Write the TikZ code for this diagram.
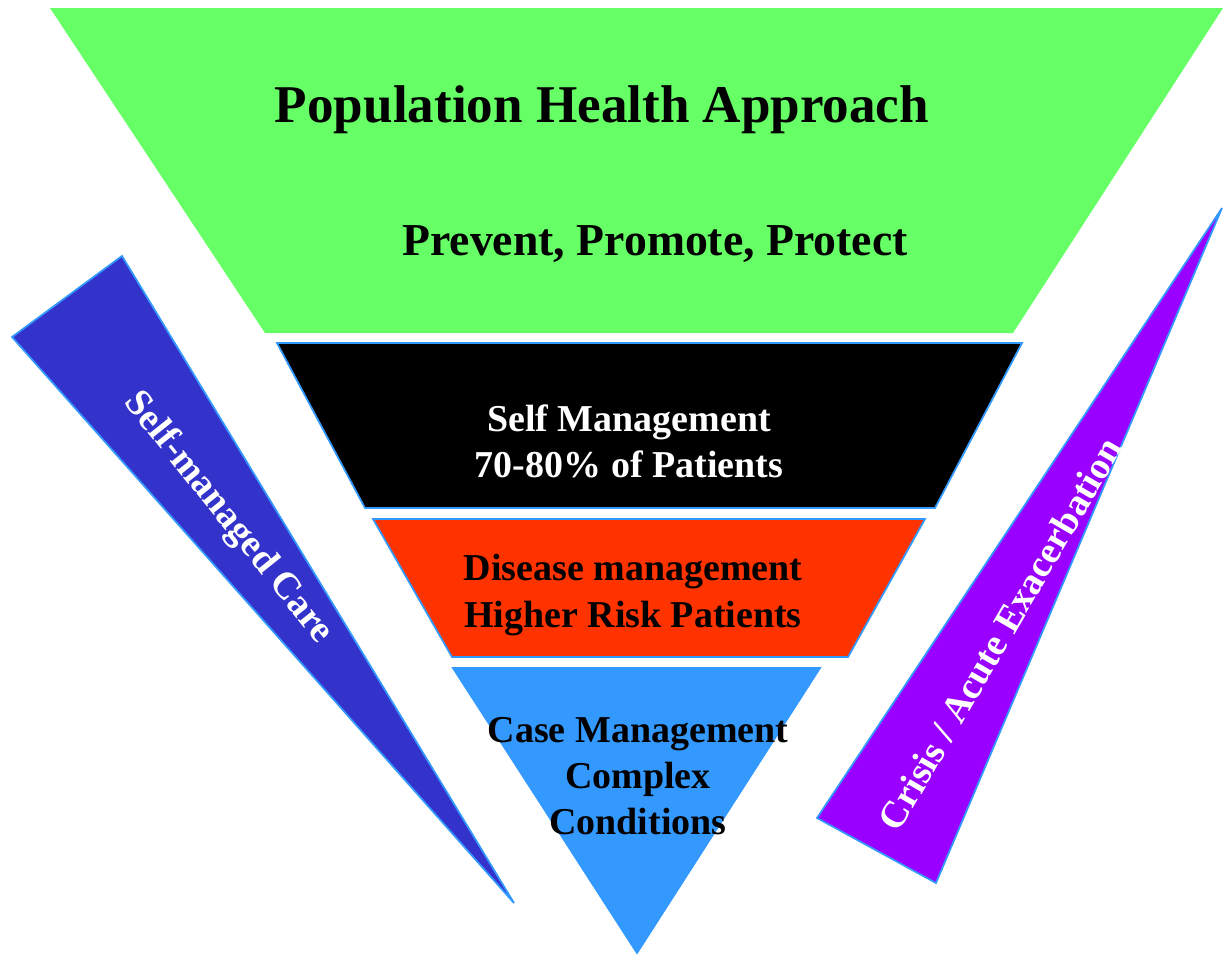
\documentclass[tikz,border=0pt]{standalone}
\usepackage{fontspec}
\setmainfont{Liberation Serif}
\definecolor{popgreen}{HTML}{66FF66}
\definecolor{riskred}{HTML}{FF3300}
\definecolor{caseblue}{HTML}{3399FF}
\definecolor{selfblue}{HTML}{3333CC}
\definecolor{crisispurple}{HTML}{9900FF}
\definecolor{edgeblue}{HTML}{3399FF}
\tikzset{
  band/.style={draw=edgeblue,line width=0.5pt},
  tiertext/.style={font=\fontsize{10.8}{13.1}\selectfont\bfseries,align=center,inner sep=0pt},
  sidetext/.style={font=\fontsize{10.8}{13}\selectfont\bfseries,text=white,inner sep=0pt}
}
\begin{document}
\begin{tikzpicture}[x=0.01cm,y=-0.01cm]
\useasboundingbox (0,0) rectangle (1223,954);
% population band
\fill[popgreen] (50,8) -- (1223,8) -- (1013,333) -- (265,333) -- cycle;
% tiers
\filldraw[band,fill=black] (277,343) -- (1022,343) -- (935,508) -- (365,508) -- cycle;
\filldraw[band,fill=riskred] (373,519) -- (925,519) -- (848,657) -- (452,657) -- cycle;
\filldraw[band,fill=caseblue] (453,668) -- (820,668) -- (637,953) -- cycle;
% side wedges
\filldraw[band,fill=selfblue] (12,337) -- (122,256) -- (514,903) -- cycle;
\filldraw[band,fill=crisispurple] (817,818) -- (1222,208) -- (936,883) -- cycle;

\node[anchor=base,font=\fontsize{15.1}{18}\selectfont\bfseries,inner sep=0pt] (popTitle) at (602,122) {Population Health Approach};
\node[anchor=base,font=\fontsize{13}{16}\selectfont\bfseries,inner sep=0pt] (popSub) at (655,255) {Prevent, Promote, Protect};
\node[tiertext,text=white] (selfMgmt) at (629,441) {Self Management\\70-80\% of Patients};
\node[tiertext] (diseaseMgmt) at (633,595) {Disease management\\Higher Risk Patients};
\node[tiertext] (caseMgmt) at (638,776) {Case Management\\Complex\\Conditions};
\node[sidetext,rotate=-51.3] (selfCare) at (228,518) {Self-managed Care};
\node[sidetext,rotate=59.8] (crisis) at (1000,634) {Crisis / Acute Exacerbation};
\end{tikzpicture}
\end{document}
